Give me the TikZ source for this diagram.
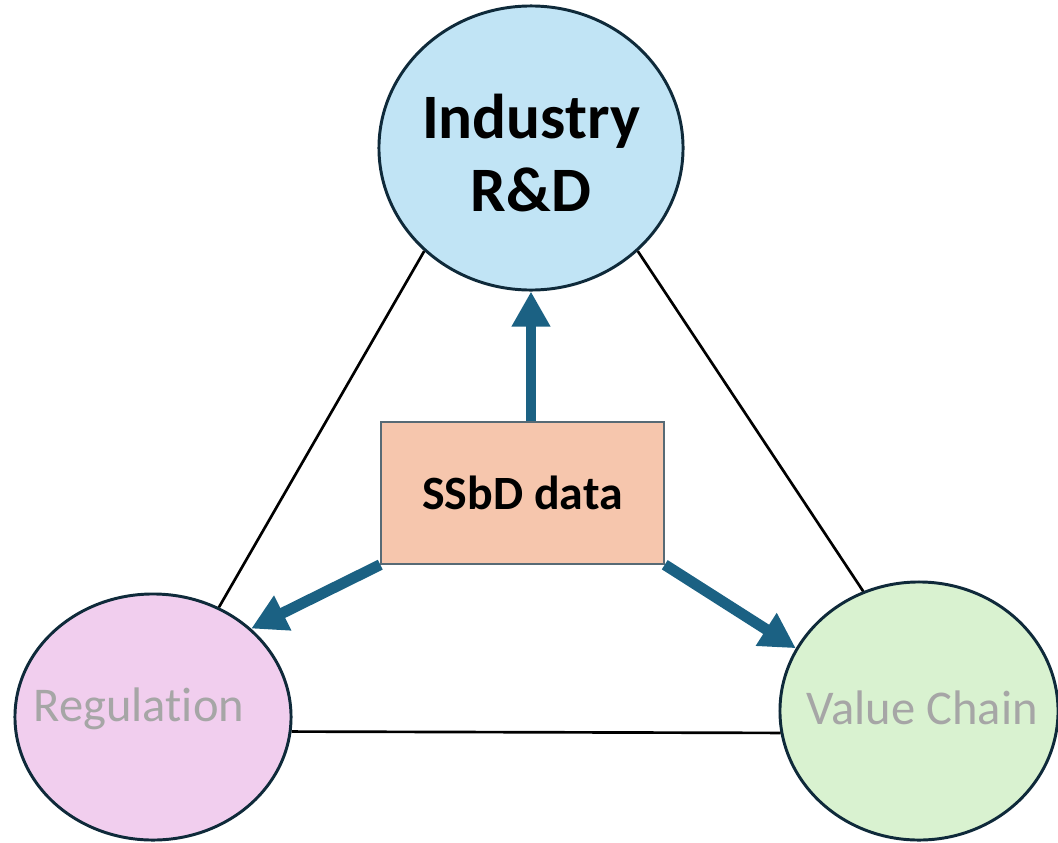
\documentclass[tikz,border=0pt]{standalone}
\usepackage{fontspec}
\setmainfont{Carlito}
\usetikzlibrary{arrows.meta}
\usetikzlibrary{shapes.geometric}
\definecolor{rdfill}{HTML}{C1E4F5}
\definecolor{regfill}{HTML}{F1CEEE}
\definecolor{vcfill}{HTML}{D9F2D0}
\definecolor{datafill}{HTML}{F6C6AD}
\definecolor{rim}{HTML}{0F2A3A}
\definecolor{flowblue}{HTML}{1B6183}
\definecolor{greytext}{HTML}{A6A6A6}
\begin{document}
\begin{tikzpicture}[x=0.025cm,y=-0.025cm,
  pillar/.style={ellipse,draw=rim,line width=2.1pt,inner sep=0pt},
  softlabel/.style={text=greytext,font=\fontsize{34.5}{40}\selectfont},
  flow/.style={draw=flowblue,line width=7.8pt,-{Triangle[length=25pt,width=26pt]}},
  tie/.style={draw=black,line width=1.9pt}]
\useasboundingbox (0,0) rectangle (1058,842);
\node[pillar,fill=rdfill,minimum width=7.6cm,minimum height=7.1cm,
  label={[align=center,font=\fontsize{45}{52}\selectfont\bfseries,yshift=-0.12cm]center:Industry\\R\&D}] (rd) at (531,148) {};
\node[pillar,fill=regfill,minimum width=6.9cm,minimum height=6.15cm,
  label={[softlabel,xshift=-0.35cm,yshift=0.2cm]center:Regulat\kern0pt ion}] (reg) at (153,717) {};
\node[pillar,fill=vcfill,minimum width=6.95cm,minimum height=6.45cm,
  label={[softlabel,xshift=0.08cm,yshift=0.08cm]center:Value Chain}] (vc) at (919,711) {};
\node[draw=rim!70,line width=1pt,fill=datafill,minimum width=7.075cm,minimum height=3.55cm,
  font=\fontsize{34}{40}\selectfont\bfseries] (data) at (522.5,493) {SSbD data};
\draw[tie] (rd.224)--(reg.59);
\draw[tie] (rd.316)--(vc.115);
\draw[tie] (reg.-6)--(vc.189);
\draw[flow] (data.north -| rd.south)--(rd.south);
\draw[flow] (data.south west)--(reg.42);
\draw[flow] (data.south east)--(vc.153);
  \end{tikzpicture}
\end{document}
